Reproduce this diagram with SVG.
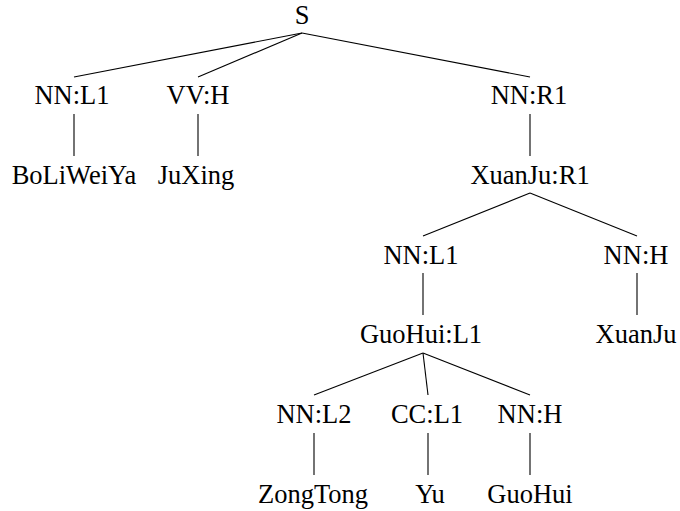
<svg xmlns="http://www.w3.org/2000/svg" width="680" height="511" viewBox="0 0 680 511">
  <style>
    text { font-family: "Liberation Serif", "Times New Roman", serif; font-size: 26.5px; fill: #000; text-anchor: middle; }
    .edge { stroke: #000; stroke-width: 1.1; fill: none; }
  </style>
  <rect width="680" height="511" fill="#fff"/>

  <!-- tree edges -->
  <g id="connectors">
    <line class="edge" x1="302" y1="33" x2="74" y2="77"/>
    <line class="edge" x1="302" y1="33" x2="198" y2="77"/>
    <line class="edge" x1="302" y1="33" x2="530" y2="77"/>
    <line class="edge" x1="74" y1="114" x2="74" y2="156"/>
    <line class="edge" x1="198" y1="114" x2="198" y2="156"/>
    <line class="edge" x1="530" y1="114" x2="530" y2="156"/>
    <line class="edge" x1="530" y1="193" x2="423" y2="236"/>
    <line class="edge" x1="530" y1="193" x2="637" y2="236"/>
    <line class="edge" x1="423" y1="273" x2="423" y2="315"/>
    <line class="edge" x1="637" y1="273" x2="637" y2="315"/>
    <line class="edge" x1="423" y1="353" x2="314" y2="395"/>
    <line class="edge" x1="423" y1="353" x2="428" y2="395"/>
    <line class="edge" x1="423" y1="353" x2="530" y2="395"/>
    <line class="edge" x1="314" y1="433" x2="314" y2="475"/>
    <line class="edge" x1="428" y1="433" x2="428" y2="475"/>
    <line class="edge" x1="530" y1="433" x2="530" y2="475"/>
  </g>

  <!-- nodes -->
  <g id="n-S"><text x="302" y="24">S</text></g>
  <g id="n-NN-L1-a"><text x="72" y="104">NN:L1</text></g>
  <g id="n-VV-H"><text x="198" y="104">VV:H</text></g>
  <g id="n-NN-R1"><text x="529" y="104">NN:R1</text></g>
  <g id="n-BoLiWeiYa"><text x="74" y="184">BoLiWeiYa</text></g>
  <g id="n-JuXing"><text x="196" y="184">JuXing</text></g>
  <g id="n-XuanJu-R1"><text x="530" y="184">XuanJu:R1</text></g>
  <g id="n-NN-L1-b"><text x="421" y="264">NN:L1</text></g>
  <g id="n-NN-H-a"><text x="636" y="264">NN:H</text></g>
  <g id="n-GuoHui-L1"><text x="421" y="343">GuoHui:L1</text></g>
  <g id="n-XuanJu"><text x="636" y="343">XuanJu</text></g>
  <g id="n-NN-L2"><text x="314" y="423">NN:L2</text></g>
  <g id="n-CC-L1"><text x="427" y="423">CC:L1</text></g>
  <g id="n-NN-H-b"><text x="530" y="423">NN:H</text></g>
  <g id="n-ZongTong"><text x="313" y="503">ZongTong</text></g>
  <g id="n-Yu"><text x="430" y="503">Yu</text></g>
  <g id="n-GuoHui"><text x="530" y="503">GuoHui</text></g>
</svg>
